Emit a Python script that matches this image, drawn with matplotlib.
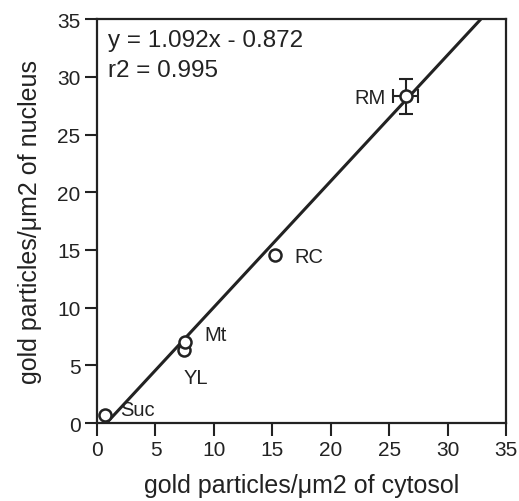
import matplotlib
matplotlib.use("Agg")
import matplotlib.pyplot as plt
import numpy as np

plt.rcParams['font.family'] = ['Liberation Sans', 'DejaVu Sans']

labels = ["Suc", "YL", "Mt", "RC", "RM"]
cytosol = [0.7, 7.4, 7.5, 15.2, 26.4]
nucleus = [0.7, 6.3, 7.0, 14.6, 28.3]
x_err = [0, 0, 0, 0, 1.1]
y_err = [0, 0, 0, 0, 1.5]
slope, intercept = 1.092, -0.872
ticks = [0, 5, 10, 15, 20, 25, 30, 35]

fig = plt.figure(figsize=(5.19, 5.02), dpi=100)
ax = fig.add_axes([0.187, 0.155, 0.788, 0.805])

xl = np.array([-intercept / slope, (35 - intercept) / slope])
ax.plot(xl, slope * xl + intercept, color='#222222', lw=2.2, zorder=2)

ax.errorbar(cytosol[4:], nucleus[4:], xerr=x_err[4:], yerr=y_err[4:], fmt='none',
            ecolor='#222222', elinewidth=1.5, capsize=5, capthick=1.5, zorder=3)
ax.scatter(cytosol, nucleus, s=75, facecolors='white', edgecolors='#222222',
           linewidths=1.8, zorder=4)

offsets = {"Suc": (1.3, 0.45, 'left'), "YL": (0.0, -2.3, 'left'), "Mt": (1.7, 0.7, 'left'),
           "RC": (1.7, -0.2, 'left'), "RM": (-1.7, -0.05, 'right')}
for lab, xv, yv in zip(labels, cytosol, nucleus):
    dx, dy, ha = offsets[lab]
    ax.text(xv + dx, yv + dy, lab, fontsize=14.5, ha=ha, va='center', color='#222222')

ax.text(0.95, 33.2, "y = 1.092x - 0.872", fontsize=17.5, color='#222222', va='center')
ax.text(0.95, 30.6, "r2 = 0.995", fontsize=17.5, color='#222222', va='center')

ax.set_xlim(0, 35)
ax.set_ylim(0, 35)
ax.set_xticks(ticks)
ax.set_yticks(ticks)
ax.tick_params(direction='out', length=9, width=1.5, labelsize=15, colors='#222222', pad=3)
for s in ax.spines.values():
    s.set_linewidth(1.6)
    s.set_color('#222222')
ax.set_xlabel("gold particles/μm2 of cytosol", fontsize=18, color='#222222', labelpad=10)
ax.set_ylabel("gold particles/μm2 of nucleus", fontsize=18, color='#222222', labelpad=11)

fig.savefig("out.png", dpi=100)
